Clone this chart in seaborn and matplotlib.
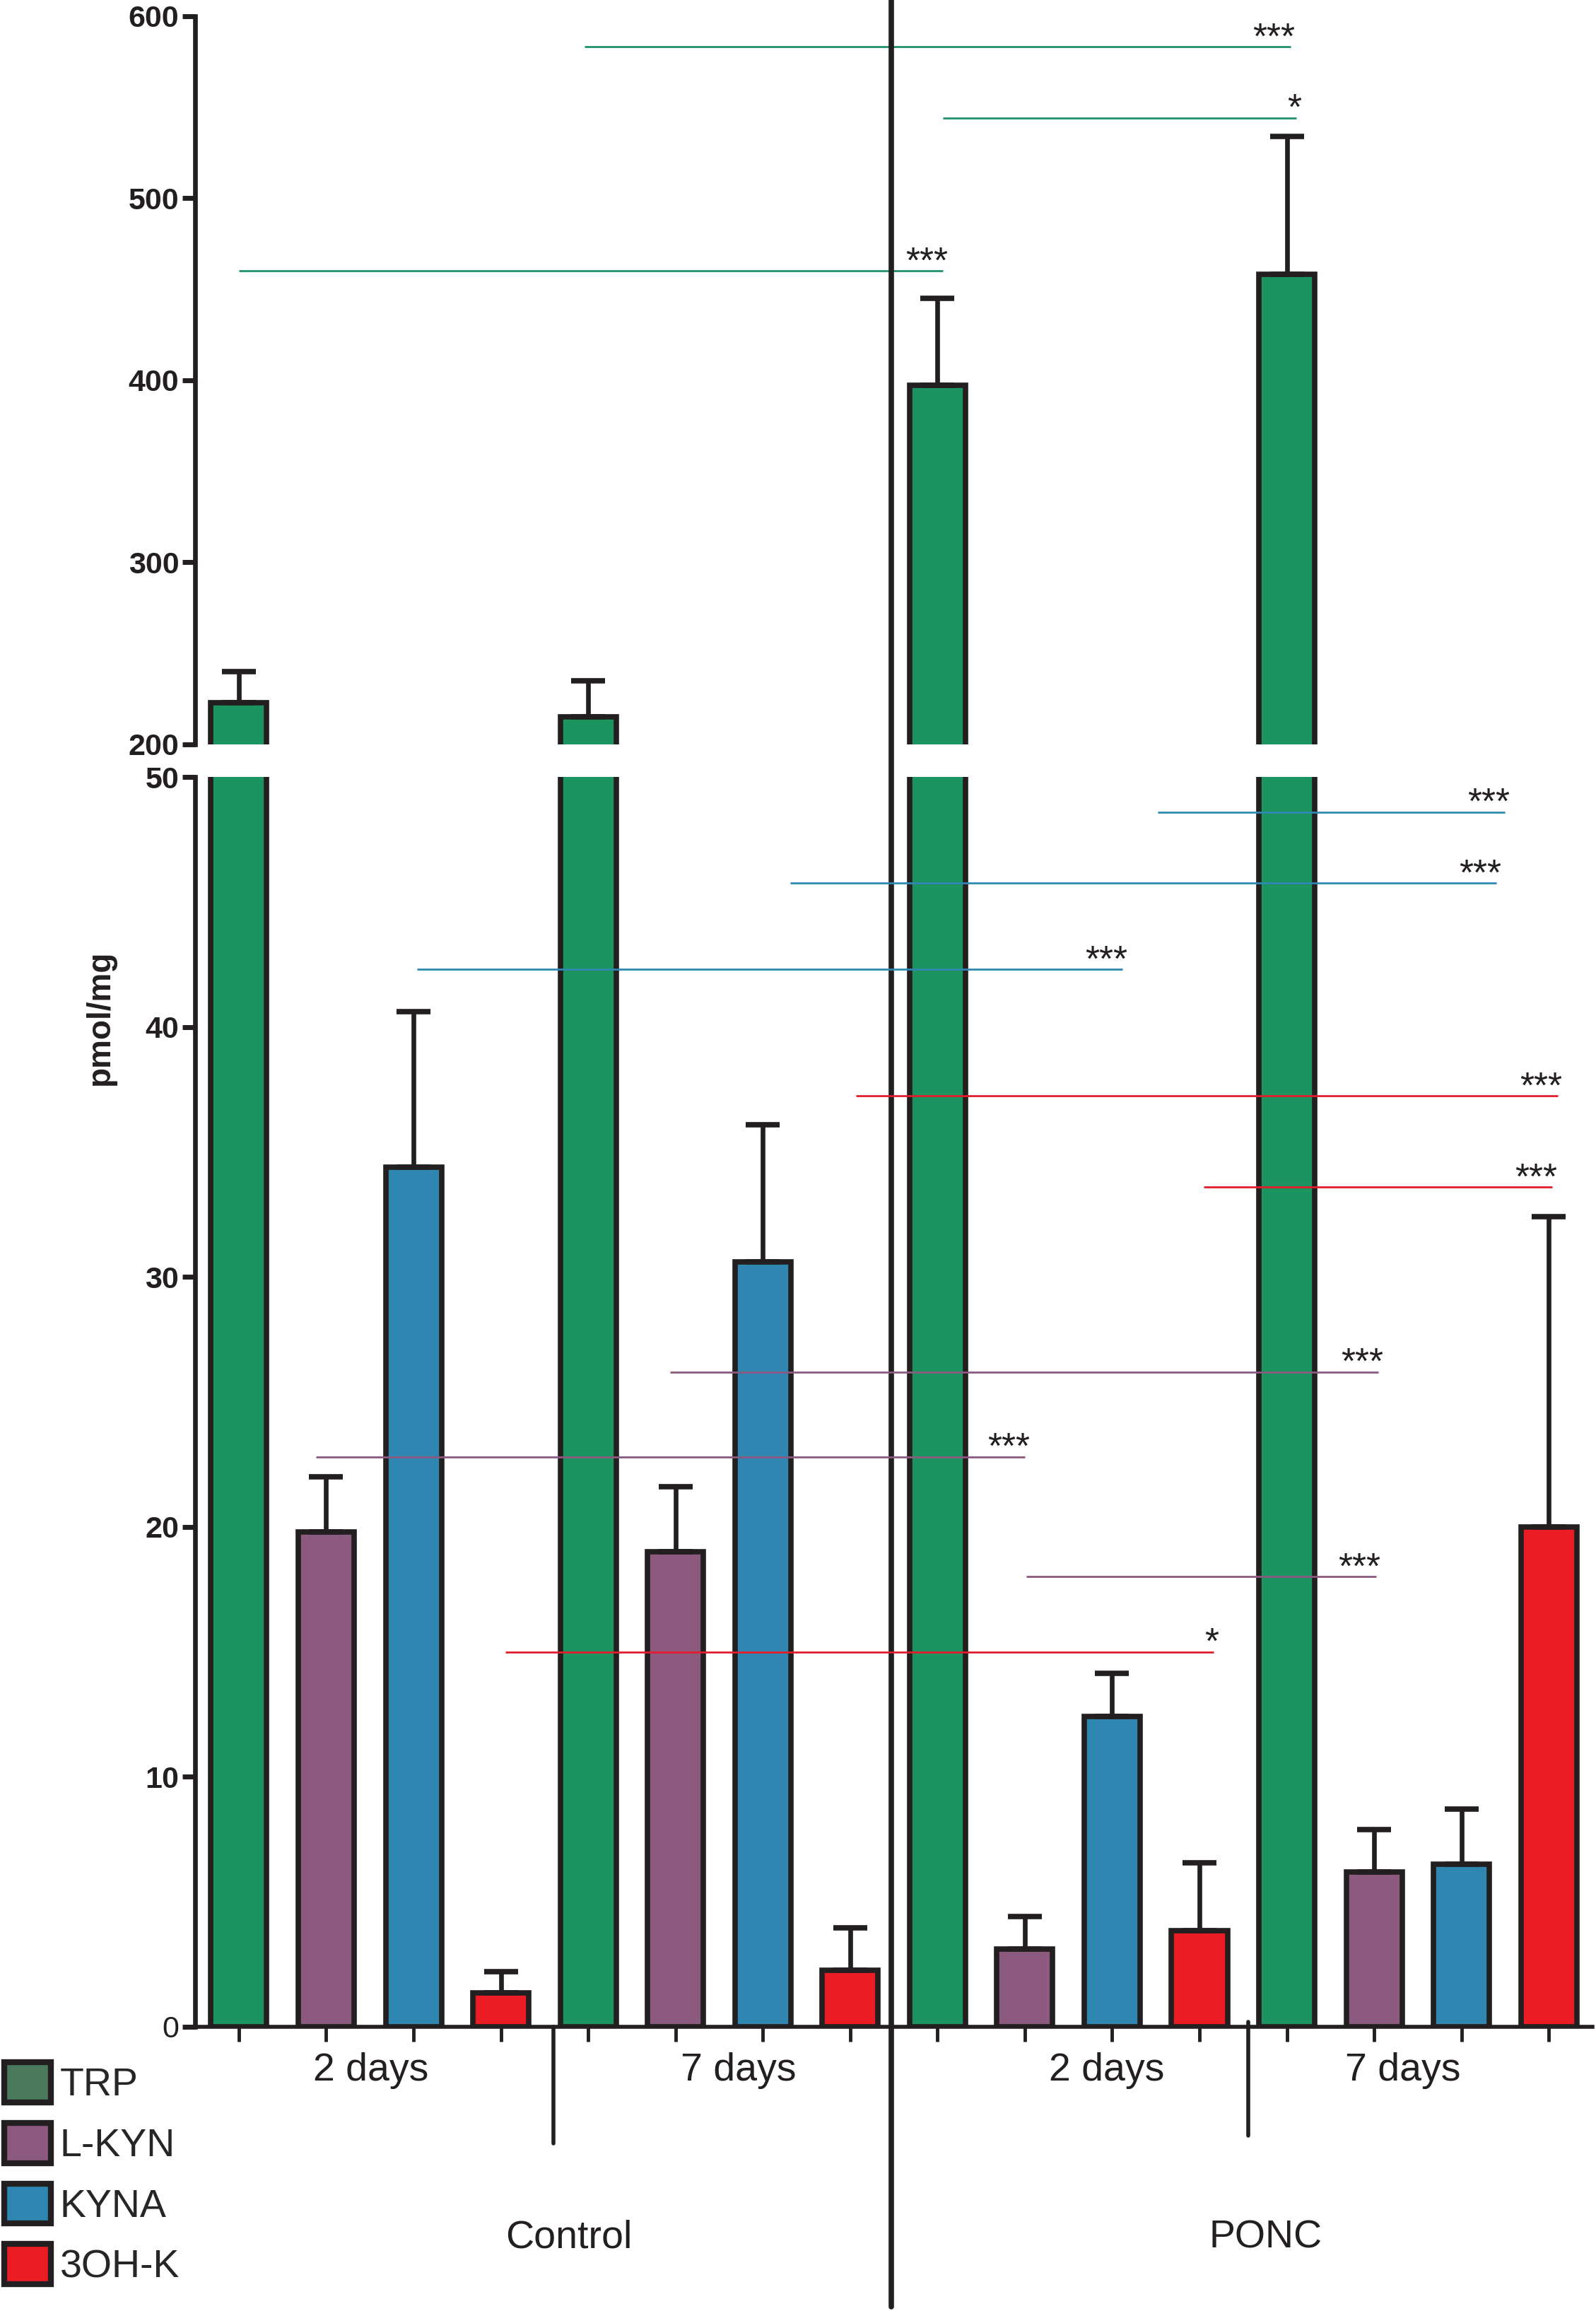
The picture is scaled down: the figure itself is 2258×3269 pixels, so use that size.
import numpy as np
import pandas as pd
import matplotlib
matplotlib.use("Agg")
import matplotlib.pyplot as plt
import seaborn as sns
from matplotlib.patches import Patch

# ---------------- data ----------------
analytes = ["TRP", "L-KYN", "KYNA", "3OH-K"]
conditions = ["Control 2 days", "Control 7 days", "PONC 2 days", "PONC 7 days"]

trp_mean = [223, 215, 397, 458]
trp_err = [17, 20, 48, 76]
lkyn_mean = [19.8, 19.0, 3.1, 6.2]
lkyn_err = [2.2, 2.6, 1.3, 1.7]
kyna_mean = [34.4, 30.6, 12.4, 6.5]
kyna_err = [6.2, 5.5, 1.75, 2.2]
ohk_mean = [1.35, 2.25, 3.85, 20.0]
ohk_err = [0.85, 1.7, 2.7, 12.4]

group_labels = ["2 days", "7 days", "2 days", "7 days"]
treatment_labels = ["Control", "PONC"]

# significance brackets: (analyte, start bar, end bar, level, label)
sig_analyte = ["TRP", "TRP", "TRP",
               "KYNA", "KYNA", "KYNA",
               "3OH-K", "3OH-K", "3OH-K",
               "L-KYN", "L-KYN", "L-KYN"]
sig_start = [0.0, 3.96, 8.06, 10.52, 6.31, 2.04, 7.07, 11.05, 3.05, 4.94, 0.88, 9.02]
sig_end = [8.06, 12.04, 12.11, 14.5, 14.4, 10.12, 15.1, 15.04, 11.16, 13.05, 9.0, 13.02]
sig_level = [460, 583, 544, 48.6, 45.75, 42.3, 37.25, 33.6, 15.0, 26.2, 22.8, 18.0]
sig_text = ["***", "***", "*", "***", "***", "***", "***", "***", "*", "***", "***", "***"]

bar_colors = {"TRP": "#1b945f", "L-KYN": "#8c5a7f", "KYNA": "#2f87b1", "3OH-K": "#ec1c24"}
legend_colors = {"TRP": "#4a7a5b", "L-KYN": "#8c5a7f", "KYNA": "#2f87b1", "3OH-K": "#ec1c24"}
line_colors = {"TRP": "#1f9468", "L-KYN": "#8c5a80", "KYNA": "#2f88b4", "3OH-K": "#e31d2b"}

means = {"TRP": trp_mean, "L-KYN": lkyn_mean, "KYNA": kyna_mean, "3OH-K": ohk_mean}
errs = {"TRP": trp_err, "L-KYN": lkyn_err, "KYNA": kyna_err, "3OH-K": ohk_err}

rows = []
for ci, cond in enumerate(conditions):
    for a in analytes:
        rows.append(dict(slot=f"{cond}|{a}", condition=cond, analyte=a,
                         value=means[a][ci], err=errs[a][ci]))
df = pd.DataFrame(rows)
pos = np.arange(len(df))

# ---------------- style ----------------
sns.set_style("ticks")
plt.rcParams["font.family"] = ["Liberation Sans", "DejaVu Sans"]
INK = "#231f20"

fig = plt.figure(figsize=(22.58, 32.69), dpi=100)
L, W = 0.1223, 0.8755
ax_top = fig.add_axes([L, 0.6779, W, 0.3152])
ax_bot = fig.add_axes([L, 0.1230, W, 0.5408])
ax_top.patch.set_alpha(0)
ax_bot.patch.set_alpha(0)

for ax in (ax_top, ax_bot):
    sns.barplot(data=df, x="slot", y="value", hue="analyte", order=list(df["slot"]),
                hue_order=analytes, palette=bar_colors, saturation=1, dodge=False, width=0.64,
                edgecolor=INK, linewidth=5.5, errorbar=None, legend=False, ax=ax)
    ax.errorbar(pos, df["value"], yerr=[np.zeros(len(df)), df["err"]], fmt="none",
                ecolor=INK, elinewidth=4.8, capsize=17, capthick=5.5, zorder=3)
    ax.set_xlim(-0.5, 15.5)
    ax.set_xlabel("")
    ax.set_ylabel("")
    for s in ("top", "right"):
        ax.spines[s].set_visible(False)
    ax.spines["left"].set_linewidth(4.8)
    ax.spines["left"].set_color(INK)
    ax.spines["bottom"].set_linewidth(4.0)
    ax.spines["bottom"].set_color(INK)
    ax.tick_params(axis="y", length=13, width=5, color=INK, pad=3.5,
                   labelsize=31, labelcolor=INK)

ax_top.set_ylim(200, 600)
ax_top.set_yticks([200, 300, 400, 500, 600])
ax_top.set_yticklabels(["200", "300", "400", "500", "600"], fontweight="bold", fontsize=31)
ax_top.spines["bottom"].set_visible(False)
ax_top.tick_params(axis="x", bottom=False, labelbottom=False)

ax_bot.set_ylim(0, 50)
ax_bot.set_yticks([0, 10, 20, 30, 40, 50])
ax_bot.set_yticklabels(["0", "10", "20", "30", "40", "50"], fontweight="bold", fontsize=31)
ax_bot.yaxis.get_major_ticks()[0].label1.set_fontweight("normal")
ax_bot.tick_params(axis="x", length=15, width=3.5, color=INK, labelbottom=False)

# ---------------- significance lines ----------------
for a, x0, x1, yv, t in zip(sig_analyte, sig_start, sig_end, sig_level, sig_text):
    ax = ax_top if yv > 100 else ax_bot
    ax.plot([x0, x1], [yv, yv], color=line_colors[a], lw=2.0, zorder=4, solid_capstyle="butt")
    ax.annotate(t, xy=(x1, yv), xytext=(5, 8), textcoords="offset points",
                ha="right", va="center", fontsize=37, color=INK, zorder=5)

# ---------------- separators & group text ----------------
xt = ax_bot.get_xaxis_transform()
ax_bot.plot([3.6, 3.6], [0, -0.0933], transform=xt, clip_on=False, color=INK, lw=4.0,
            solid_capstyle="round")
ax_bot.plot([11.56, 11.56], [0.004, -0.087], transform=xt, clip_on=False, color=INK, lw=4.0,
            solid_capstyle="round")
ax_bot.plot([7.47, 7.47], [-0.224, 1.63], transform=xt, clip_on=False, color=INK, lw=5.5,
            solid_capstyle="round")

for xg, lab in zip([1.51, 5.72, 9.94, 13.33], group_labels):
    ax_bot.text(xg, -0.0354, lab, transform=xt, ha="center", va="center",
                fontsize=40, color=INK)
for xg, lab in zip([3.78, 11.76], treatment_labels):
    ax_bot.text(xg, -0.169, lab, transform=xt, ha="center", va="center",
                fontsize=40, color=INK)

fig.text(0.0629, 0.5598, "pmol/mg", rotation=90, ha="center", va="center",
         fontsize=33, fontweight="bold", color=INK)

# ---------------- legend ----------------
handles = [Patch(facecolor=legend_colors[a], edgecolor=INK, linewidth=6, label=a)
           for a in analytes]
fig.legend(handles=handles, loc="upper left", bbox_to_anchor=(0.0027, 0.1076),
           bbox_transform=fig.transFigure, frameon=False, fontsize=40,
           handlelength=1.19, handleheight=1.19, handletextpad=0.22,
           labelspacing=0.48, borderpad=0, borderaxespad=0)

fig.savefig("out.png", dpi=100, facecolor="white")
